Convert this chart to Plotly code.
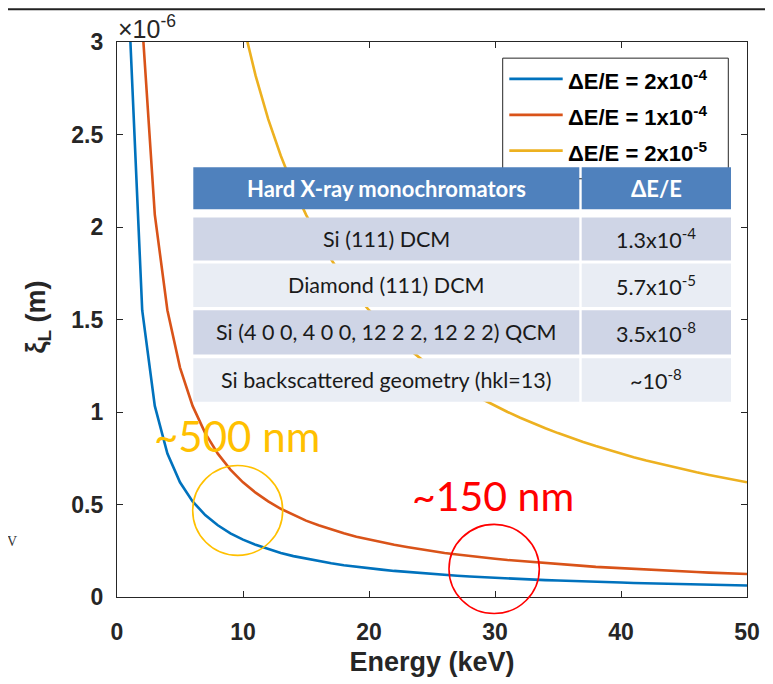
import plotly.graph_objects as go

# ---------------- data ----------------
energy_keV = list(range(1, 51))

# longitudinal coherence length, units of 1e-6 m
xi_2e4 = [3.100, 1.550, 1.033, 0.775, 0.620, 0.517, 0.443, 0.388, 0.344, 0.310,
          0.282, 0.258, 0.238, 0.221, 0.207, 0.194, 0.182, 0.172, 0.163, 0.155,
          0.148, 0.141, 0.135, 0.129, 0.124, 0.119, 0.115, 0.111, 0.107, 0.103,
          0.100, 0.097, 0.094, 0.091, 0.089, 0.086, 0.084, 0.082, 0.079, 0.078,
          0.076, 0.074, 0.072, 0.070, 0.069, 0.067, 0.066, 0.065, 0.063, 0.062]
xi_1e4 = [6.200, 3.100, 2.067, 1.550, 1.240, 1.033, 0.886, 0.775, 0.689, 0.620,
          0.564, 0.517, 0.477, 0.443, 0.413, 0.388, 0.365, 0.344, 0.326, 0.310,
          0.295, 0.282, 0.270, 0.258, 0.248, 0.238, 0.230, 0.221, 0.214, 0.207,
          0.200, 0.194, 0.188, 0.182, 0.177, 0.172, 0.168, 0.163, 0.159, 0.155,
          0.151, 0.148, 0.144, 0.141, 0.138, 0.135, 0.132, 0.129, 0.127, 0.124]
xi_2e5 = [31.00, 15.50, 10.333, 7.750, 6.200, 5.167, 4.429, 3.875, 3.444, 3.100,
          2.818, 2.583, 2.385, 2.214, 2.067, 1.938, 1.824, 1.722, 1.632, 1.550,
          1.476, 1.409, 1.348, 1.292, 1.240, 1.192, 1.148, 1.107, 1.069, 1.033,
          1.000, 0.969, 0.939, 0.912, 0.886, 0.861, 0.838, 0.816, 0.795, 0.775,
          0.756, 0.738, 0.721, 0.705, 0.689, 0.674, 0.660, 0.646, 0.633, 0.620]

series_names = ["ΔE/E = 2x10<sup>-4</sup>", "ΔE/E = 1x10<sup>-4</sup>", "ΔE/E = 2x10<sup>-5</sup>"]
series_colors = ["#0072BD", "#D95319", "#EDB120"]

x_ticks = [0, 10, 20, 30, 40, 50]
y_ticks = [0, 0.5, 1, 1.5, 2, 2.5, 3]
y_ticktext = ["0", "0.5", "1", "1.5", "2", "2.5", "3"]

table_header = ["Hard X-ray monochromators", "ΔE/E"]
mono_names = ["Si (111) DCM", "Diamond (111) DCM",
              "Si (4 0 0, 4 0 0, 12 2 2, 12 2 2) QCM",
              "Si backscattered geometry (hkl=13)"]
mono_dEE = ["1.3x10<sup>-4</sup>", "5.7x10<sup>-5</sup>",
            "3.5x10<sup>-8</sup>", "~10<sup>-8</sup>"]

callouts = ["~500 nm", "~150 nm"]

# ---------------- layout helpers (screen pixel -> paper) ----------------
# the page body has an 8 px margin, so the figure is made 8 px smaller
# and its margins shifted to land the plot area on the reference pixels
OFF = 8
W, H = 773 - OFF, 684 - OFF
L, R, T, B = 117 - OFF, 26, 42 - OFF, 82
X0, X1 = 117, 747          # screen x of plot area
Y1, Y0 = 42, 602           # screen y of plot area (top, bottom)


def px(x):
    return (x - X0) / (X1 - X0)


def py(y):
    return (Y0 - y) / (Y0 - Y1)


fig = go.Figure()
for ys, nm, col in zip([xi_2e4, xi_1e4, xi_2e5], series_names, series_colors):
    fig.add_trace(go.Scatter(x=energy_keV, y=ys, mode="lines", name=nm,
                             line=dict(color=col, width=2.6), showlegend=False))

shapes = []
annotations = []
axis_col = "#262626"

# top border line of the slide crop
shapes.append(dict(type="line", xref="paper", yref="paper", x0=px(OFF), x1=px(773),
                   y0=py(OFF + 1), y1=py(OFF + 1), line=dict(color="#222222", width=2),
                   layer="above"))

# legend box
shapes.append(dict(type="rect", xref="paper", yref="paper", x0=px(502.7), x1=px(728.3),
                   y0=py(180), y1=py(58.3), line=dict(color=axis_col, width=1),
                   fillcolor="white", layer="above"))
leg_y = [79.3, 115.5, 151.7]
for yy, nm, col in zip(leg_y, series_names, series_colors):
    shapes.append(dict(type="line", xref="paper", yref="paper", x0=px(509.3), x1=px(562.7),
                       y0=py(yy), y1=py(yy), line=dict(color=col, width=2.8), layer="above"))
    annotations.append(dict(xref="paper", yref="paper", x=px(566), y=py(yy + 1),
                            text="<b>" + nm + "</b>", showarrow=False, xanchor="left",
                            yanchor="middle",
                            font=dict(family="Liberation Sans", size=22, color="#000000")))

# table
col_x = [(193.3, 579.3), (581.7, 731.0)]
hdr_y = (168.3, 210.7)
row_y = [(219.0, 262.5), (265.5, 309.5), (312.7, 357.3), (361.0, 405.0)]
row_fill = ["#CFD5E6", "#E9EDF4", "#CFD5E6", "#E9EDF4"]
for (cx0, cx1), txt in zip(col_x, table_header):
    shapes.append(dict(type="rect", xref="paper", yref="paper", x0=px(cx0), x1=px(cx1),
                       y0=py(hdr_y[1]), y1=py(hdr_y[0]), line=dict(width=0),
                       fillcolor="#4F81BD", layer="above"))
    annotations.append(dict(xref="paper", yref="paper", x=px((cx0 + cx1) / 2),
                            y=py((hdr_y[0] + hdr_y[1]) / 2), text="<b>" + txt + "</b>",
                            showarrow=False, xanchor="center", yanchor="middle",
                            font=dict(family="Lato", size=22, color="white")))
for (ry0, ry1), fill, nm, de in zip(row_y, row_fill, mono_names, mono_dEE):
    for (cx0, cx1), txt in zip(col_x, [nm, de]):
        shapes.append(dict(type="rect", xref="paper", yref="paper", x0=px(cx0), x1=px(cx1),
                           y0=py(ry1), y1=py(ry0), line=dict(width=0),
                           fillcolor=fill, layer="above"))
        annotations.append(dict(xref="paper", yref="paper", x=px((cx0 + cx1) / 2),
                                y=py((ry0 + ry1) / 2), text=txt, showarrow=False,
                                xanchor="center", yanchor="middle",
                                font=dict(family="Lato", size=21.5, color="#1a1a1a")))

# call-out circles
shapes.append(dict(type="circle", xref="paper", yref="paper", x0=px(192.7), x1=px(282.7),
                   y0=py(560.0), y1=py(469.3), line=dict(color="#FFC000", width=1.6),
                   layer="above"))
shapes.append(dict(type="circle", xref="paper", yref="paper", x0=px(449.0), x1=px(539.3),
                   y0=py(618.7), y1=py(528.7), line=dict(color="#FF0000", width=1.6),
                   layer="above"))
annotations.append(dict(xref="paper", yref="paper", x=px(237), y=py(440), text=callouts[0],
                        showarrow=False, xanchor="center", yanchor="middle",
                        font=dict(family="Lato", size=42, color="#FFC000")))
annotations.append(dict(xref="paper", yref="paper", x=px(493), y=py(500), text=callouts[1],
                        showarrow=False, xanchor="center", yanchor="middle",
                        font=dict(family="Lato", size=41, color="#FF0000")))

# exponent label and y title
annotations.append(dict(xref="paper", yref="paper", x=px(116), y=py(27),
                        text="×10<sup>-6</sup>", showarrow=False, xanchor="left",
                        yanchor="middle",
                        font=dict(family="Liberation Sans", size=25, color=axis_col)))
annotations.append(dict(xref="paper", yref="paper", x=px(38), y=py(320),
                        text="<b>ξ<sub>L</sub> (m)</b>", showarrow=False, textangle=-90,
                        xanchor="center", yanchor="middle",
                        font=dict(family="Liberation Sans", size=27, color=axis_col)))
annotations.append(dict(xref="paper", yref="paper", x=px(12), y=py(546), text="V",
                        showarrow=False, xanchor="center", yanchor="middle",
                        font=dict(family="Liberation Serif", size=14, color="#333333")))

fig.update_layout(
    width=W, height=H,
    margin=dict(l=L, r=R, t=T, b=B),
    paper_bgcolor="white", plot_bgcolor="white",
    shapes=shapes, annotations=annotations,
    showlegend=False,
    xaxis=dict(range=[0, 50], tickvals=x_ticks, showgrid=False, zeroline=False,
               showline=True, linecolor=axis_col, linewidth=1.3, mirror="allticks",
               ticks="inside", ticklen=6, tickcolor=axis_col, ticklabelstandoff=14,
               tickfont=dict(family="Liberation Sans", size=23, color=axis_col, weight="bold"),
               title=dict(text="<b>Energy (keV)</b>", standoff=8,
                          font=dict(family="Liberation Sans", size=27, color=axis_col))),
    yaxis=dict(range=[0, 3], tickvals=y_ticks, ticktext=y_ticktext, showgrid=False,
               zeroline=False, showline=True, linecolor=axis_col, linewidth=1.3,
               mirror="allticks", ticks="inside", ticklen=6, tickcolor=axis_col,
               ticklabelstandoff=8,
               tickfont=dict(family="Liberation Sans", size=23, color=axis_col, weight="bold")),
)

fig.write_html("out.html")
